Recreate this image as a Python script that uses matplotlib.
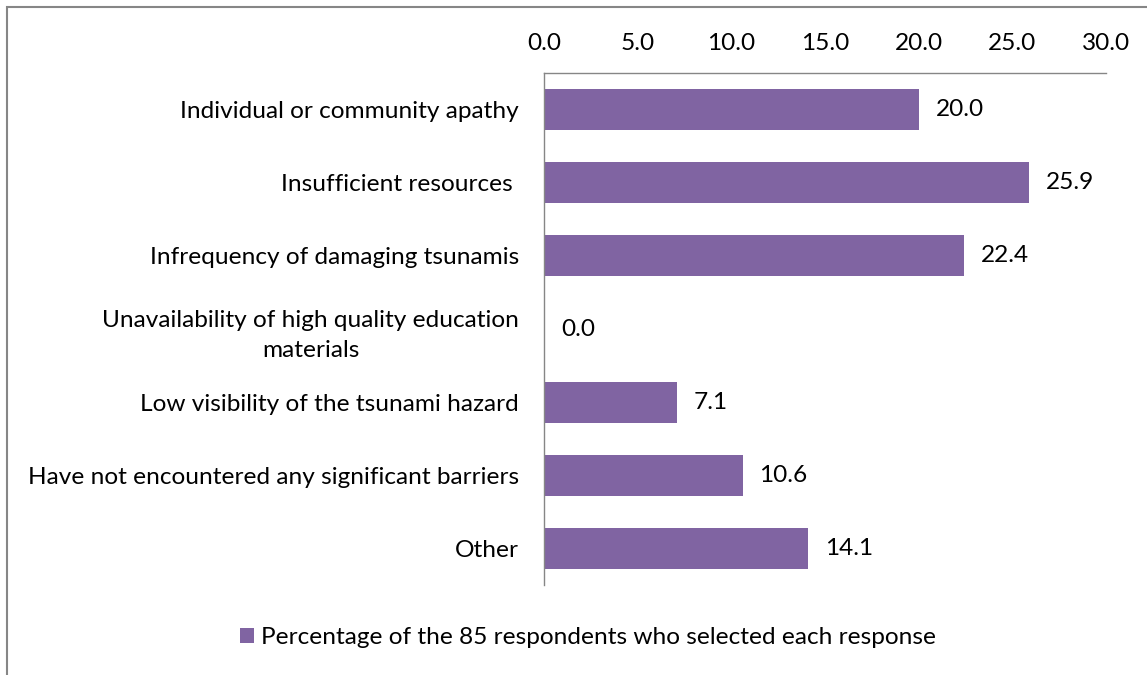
import matplotlib
matplotlib.use("Agg")
import matplotlib.pyplot as plt
from matplotlib.patches import Rectangle, Patch

plt.rcParams["font.family"] = ["Lato", "DejaVu Sans"]

categories = [
    "Individual or community apathy",
    "Insufficient resources ",
    "Infrequency of damaging tsunamis",
    "Unavailability of high quality education\nmaterials",
    "Low visibility of the tsunami hazard",
    "Have not encountered any significant barriers",
    "Other",
]
values = [20.0, 25.9, 22.4, 0.0, 7.1, 10.6, 14.1]
series_name = "Percentage of the 85 respondents who selected each response"
xticks = [0, 5, 10, 15, 20, 25, 30]

BAR = "#8064A2"
FS = 17.6

fig = plt.figure(figsize=(11.47, 6.75), dpi=100)
ax = fig.add_axes([544 / 1147, 1 - 585 / 675, (1106 - 544) / 1147, (585 - 73) / 675])

ypos = list(range(len(categories)))
ax.barh(ypos, values, height=0.56, color=BAR)
for y, v in zip(ypos, values):
    ax.text(v + 0.9, y, f"{v:.1f}", va="center", ha="left", fontsize=FS, color="black")

ax.set_ylim(len(categories) - 0.5, -0.5)
ax.set_xlim(0, 30)
ax.set_xticks(xticks)
ax.set_xticklabels([f"{t:.1f}" for t in xticks])
ax.set_yticks(ypos)
ax.set_yticklabels(categories, fontsize=FS, linespacing=1.5)
ax.xaxis.tick_top()
ax.tick_params(axis="x", length=0, pad=14, labelsize=FS)
ax.tick_params(axis="y", length=0, pad=18)
for lbl in ax.get_yticklabels():
    lbl.set_multialignment("center")

for s in ["right", "bottom"]:
    ax.spines[s].set_visible(False)
for s in ["top", "left"]:
    ax.spines[s].set_color("#868686")
    ax.spines[s].set_linewidth(1.0)

fig.legend(handles=[Patch(facecolor=BAR, label=series_name)], loc="center",
           bbox_to_anchor=(588 / 1147, 1 - 638 / 675), frameon=False,
           fontsize=FS, handlelength=0.55, handleheight=0.55, handletextpad=0.3)

# outer chart border (only left/top visible in the crop)
fig.patches.append(Rectangle((7 / 1147, -0.05), 1.2, 1 - 7 / 675 + 0.05,
                             transform=fig.transFigure, fill=False,
                             edgecolor="#868686", linewidth=1.5))

fig.savefig("out.png", dpi=100)
